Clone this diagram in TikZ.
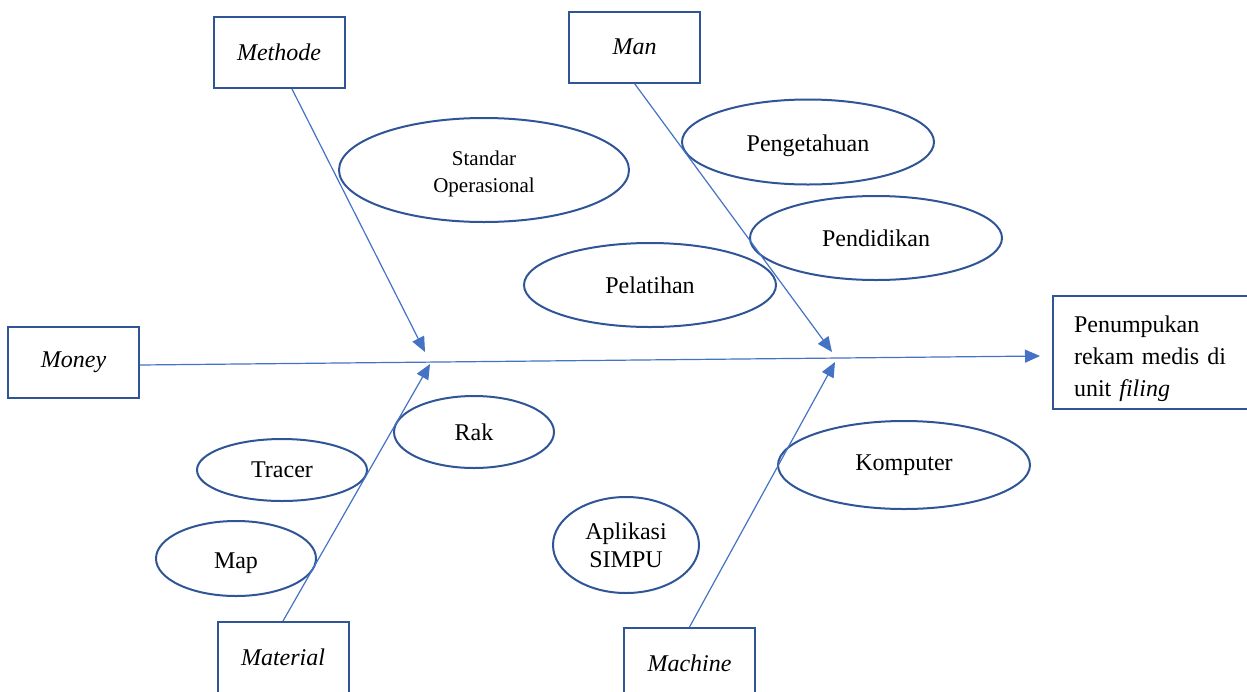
\documentclass[tikz,border=0pt]{standalone}
\usepackage{fontspec}
\setmainfont{Liberation Serif}
\usetikzlibrary{shapes.geometric,arrows.meta}
\definecolor{boxblue}{HTML}{2F5597}
\definecolor{lineblue}{HTML}{4472C4}
\tikzset{
  catbox/.style={draw=boxblue,line width=1pt,minimum width=65.5pt,minimum height=35.5pt,inner sep=0pt,font=\fontsize{12}{14}\selectfont\itshape},
  cause/.style={draw=boxblue,line width=1pt,ellipse,inner sep=0pt,align=center,font=\fontsize{12}{14}\selectfont},
  fixtext/.style={text height=8.5pt,text depth=2.5pt},
  bone/.style={draw=lineblue,line width=0.6pt,-{Triangle[length=7.5pt,width=6.5pt]}}
}
\begin{document}
\begin{tikzpicture}[x=0.5pt,y=-0.5pt]
\useasboundingbox (0,0) rectangle (1247,691);
% category boxes
\node[catbox] (methode) at (279,52.5) {Methode};
\node[catbox] (man) at (634.5,47) {Man};
\node[catbox] (money) at (73.5,362.5) {Money};
\node[catbox] (material) at (283,657.5) {Material};
\node[catbox] (machine) at (689.5,663.5) {Machine};
% effect
\node[draw=boxblue,line width=1pt,anchor=west,minimum height=56.5pt,inner xsep=10.5pt,inner ysep=0pt,text width=81pt,align=left,font=\fontsize{12}{16}\selectfont] (effect) at (1052,352.5)
  {\rule{0pt}{15pt}Penumpukan\\\makebox[81pt][s]{rekam medis di}\\unit \textit{filing}};
% causes
\node[cause,minimum width=145pt,minimum height=52pt,font=\fontsize{10.5}{13.5}\selectfont] (sop) at (484,170) {\rule{0pt}{11pt}Standar\\Operasional};
\node[cause,fixtext,minimum width=126pt,minimum height=42.5pt] (pengetahuan) at (808,142) {\raisebox{-1.5pt}{Pengetahuan}};
\node[cause,minimum width=126pt,minimum height=42pt] (pendidikan) at (876,238) {Pendidikan};
\node[cause,minimum width=126pt,minimum height=42pt] (pelatihan) at (650,285) {Pelatihan};
\node[cause,fixtext,minimum width=80pt,minimum height=36pt] (rak) at (474,432) {\raisebox{-1pt}{Rak}};
\node[cause,minimum width=85pt,minimum height=31pt] (tracer) at (282,470) {Tracer};
\node[cause,fixtext,minimum width=80pt,minimum height=37.5pt] (map) at (236,558.5) {\raisebox{-2pt}{Map}};
\node[cause,minimum width=126pt,minimum height=44pt] (komputer) at (904,465) {Komputer};
\node[cause,minimum width=73pt,minimum height=48pt] (aplikasi) at (626,545) {Aplikasi\\SIMPU};
% spine and bones
\coordinate (spineend) at (1040,356);
\coordinate (tmethode) at (425,352);
\coordinate (tman) at (832,352);
\coordinate (tmaterial) at (430,364);
\coordinate (tmachine) at (835,362);
\draw[bone] ([yshift=-1.25pt]money.east) -- (spineend);
\draw[bone] ([xshift=6.5pt]methode.south) -- (tmethode);
\draw[bone] (man.south) -- (tman);
\draw[bone] (material.north) -- (tmaterial);
\draw[bone] (machine.north) -- (tmachine);
\end{tikzpicture}
\end{document}
